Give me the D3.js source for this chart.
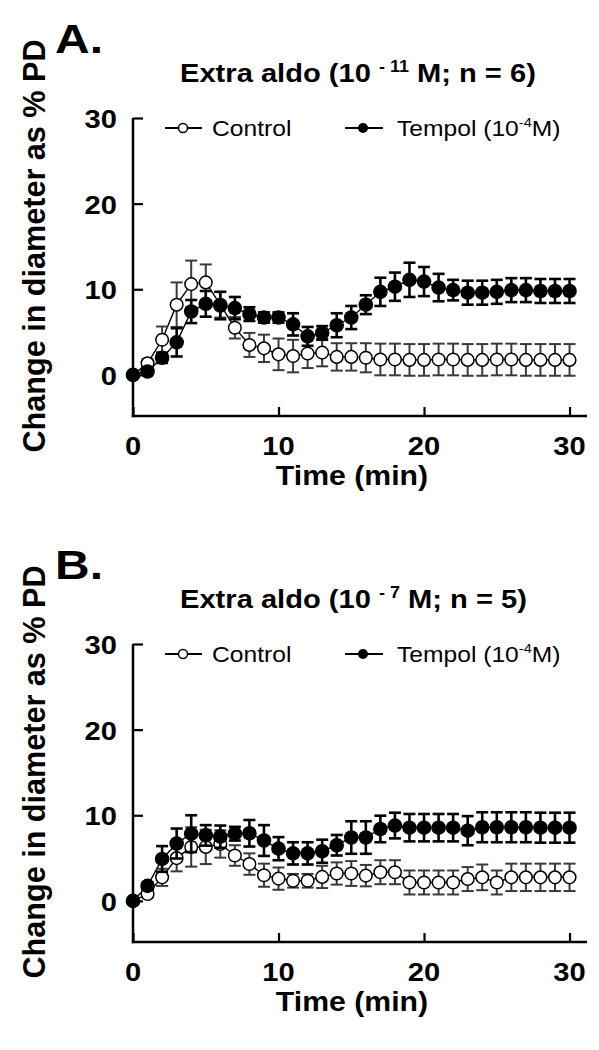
<!DOCTYPE html>
<html><head><meta charset="utf-8">
<script src="https://cdn.jsdelivr.net/npm/d3@7"></script>
<style>
body{margin:0;background:#fff}
svg{display:block}
text{font-family:"Liberation Sans",Arial,Helvetica,sans-serif;fill:#000}
</style>
</head><body>
<svg id="c" width="599" height="1050"></svg>
<script>
// ---------- data ----------
const times = [0,1,2,3,4,5,6,7,8,9,10,11,12,13,14,15,16,17,18,19,20,21,22,23,24,25,26,27,28,29,30];

// Panel A: Extra aldo (10^-11 M; n = 6)
const aControl    = [0,1.35,4.1,8.2,10.6,10.8,8.2,5.5,3.5,3.1,2.4,2.2,2.5,2.6,2.1,2.1,2.0,1.8,1.8,1.75,1.75,1.8,1.8,1.75,1.75,1.8,1.8,1.75,1.75,1.75,1.75];
const aControlErr = [0,0.5,1.55,2.6,2.75,2.1,1.5,1.25,1.4,1.6,1.85,1.9,1.7,1.6,1.6,1.6,1.7,1.85,1.85,1.85,1.85,1.85,1.85,1.85,1.85,1.85,1.85,1.85,1.85,1.85,1.85];
const aTempol     = [0,0.4,2.0,3.8,7.4,8.3,8.1,7.8,7.1,6.7,6.7,5.9,4.5,4.9,5.8,6.7,8.2,9.7,10.3,11.1,10.9,10.2,9.9,9.6,9.6,9.7,9.9,9.9,9.8,9.8,9.8];
const aTempolErr  = [0,0.3,0.6,1.65,1.35,1.5,1.6,1.3,0.8,0.6,0.6,1.3,1.1,0.8,1.4,1.35,1.1,1.65,1.65,2.0,1.7,1.6,1.2,1.4,1.4,1.4,1.4,1.4,1.4,1.4,1.4];

// Panel B: Extra aldo (10^-7 M; n = 5)
const bControl    = [0,0.8,2.75,5.0,6.3,6.3,6.65,5.3,4.3,3.0,2.6,2.35,2.35,2.8,3.2,3.2,2.95,3.35,3.35,2.15,2.15,2.15,2.15,2.55,2.75,2.15,2.75,2.75,2.75,2.75,2.75];
const bControlErr = [0,0.4,1.0,1.55,2.3,2.0,1.6,1.2,1.25,1.35,1.3,0.8,0.8,1.3,1.3,1.45,1.25,1.4,1.4,1.4,1.4,1.4,1.4,1.4,1.5,1.4,1.6,1.6,1.6,1.6,1.6];
const bTempol     = [0,1.75,4.9,6.7,7.85,7.65,7.5,7.85,7.9,7.05,6.1,5.55,5.55,5.8,6.5,7.4,7.4,8.4,8.8,8.55,8.55,8.55,8.55,8.2,8.6,8.6,8.6,8.6,8.55,8.55,8.55];
const bTempolErr  = [0,0.4,1.5,1.75,2.15,1.2,1.3,0.8,1.55,1.8,1.35,1.3,1.3,1.35,1.2,1.9,1.9,1.55,1.5,1.6,1.6,1.6,1.6,1.7,1.75,1.75,1.75,1.75,1.75,1.75,1.75];

const xTicks = [0,10,20,30];
const yTicks = [0,10,20,30];
const panelLetters = ["A.","B."];
const titleMain = "Extra aldo (10";
const titleExps = ["- 11","- 7"];
const titleNs = ["6","5"];
const legendControl = "Control";
const legendTempol = "Tempol (10";
const legendTempolExp = "-4";
const yLabel = "Change in diameter as % PD";
const xLabel = "Time (min)";

// ---------- drawing ----------
const svg = d3.select("#c");
const SX = 1.12;

function stext(parent, x, y, size, weight, anchor){
  const g = parent.append("g").attr("transform", `translate(${x},${y}) scale(${SX},1)`);
  return g.append("text").attr("font-size", size).attr("font-weight", weight).attr("text-anchor", anchor);
}

function panel(idx, dy, ctrl, ctrlErr, temp, tempErr){
  const g = svg.append("g").attr("transform", `translate(0,${dy})`);
  const x = d3.scaleLinear().domain([0,31.2]).range([133,587]);
  const y = d3.scaleLinear().domain([-4.8,30]).range([416,118]);

  // panel letter
  const L = stext(g, 55, 53, 40, "bold", "start").text(panelLetters[idx]);
  const lw = L.node().getComputedTextLength();
  L.node().parentNode.setAttribute("transform", `translate(55,53) scale(${48/lw},1)`);

  // title
  const t = stext(g, 180, 82, 26, "bold", "start");
  t.append("tspan").text(titleMain + " ");
  t.append("tspan").attr("font-size", 16).attr("dy", -10).text(titleExps[idx]);
  t.append("tspan").attr("dy", 10).text(" M; n = " + titleNs[idx] + ")");

  // legend
  const ly = 128;
  g.append("line").attr("x1",165).attr("x2",202).attr("y1",ly).attr("y2",ly).attr("stroke","#000").attr("stroke-width",2);
  g.append("circle").attr("cx",183).attr("cy",ly).attr("r",4.5).attr("fill","#fff").attr("stroke","#000").attr("stroke-width",1.5);
  stext(g, 212, 136, 22, "normal", "start").text(legendControl);
  g.append("line").attr("x1",345).attr("x2",383).attr("y1",ly).attr("y2",ly).attr("stroke","#000").attr("stroke-width",2);
  g.append("circle").attr("cx",363).attr("cy",ly).attr("r",5).attr("fill","#000");
  const lt = stext(g, 397, 136, 22, "normal", "start");
  lt.append("tspan").text(legendTempol);
  lt.append("tspan").attr("font-size", 13).attr("dy", -9).text(legendTempolExp);
  lt.append("tspan").attr("dy", 9).text("M)");

  // axes
  const xa = g.append("g").attr("transform", `translate(0,${y(-4.8)})`)
    .call(d3.axisBottom(x).tickValues(xTicks).tickSizeInner(-9).tickSizeOuter(0).tickFormat(""));
  const ya = g.append("g").attr("transform", `translate(${x(0)},0)`)
    .call(d3.axisLeft(y).tickValues(yTicks).tickSizeInner(-10).tickSizeOuter(0).tickFormat(""));
  [xa, ya].forEach(a => {
    a.select(".domain").attr("stroke","#000").attr("stroke-width",2.5);
    a.selectAll(".tick line").attr("stroke","#000").attr("stroke-width",2.2);
  });
  ya.select(".domain").attr("d", `M0,${y(30)}V${y(-4.8)+1.2}`);
  xa.select(".domain").attr("d", `M${x(0)-1.2},0H${x(31.2)}`);

  xTicks.forEach(v => stext(g, x(v), 455, 26, "bold", "middle").text(v));
  yTicks.forEach(v => stext(g, 117, y(v)+10, 26, "bold", "end").text(v));

  stext(g, 352, 485, 27, "bold", "middle").text(xLabel);
  g.append("g").attr("transform", `translate(45,246) scale(1.1,1) rotate(-90)`)
    .append("text").attr("font-size", 29).attr("font-weight","bold").attr("text-anchor","middle")
    .attr("textLength", 413).attr("lengthAdjust","spacingAndGlyphs").text(yLabel);

  // series
  const line = d3.line().x((d,i)=>x(times[i])).y(d=>y(d));
  g.append("path").attr("d", line(ctrl)).attr("fill","none").attr("stroke","#000").attr("stroke-width",1.4);
  g.append("path").attr("d", line(temp)).attr("fill","none").attr("stroke","#000").attr("stroke-width",1.4);

  function errbars(vals, errs, color, w){
    const eg = g.append("g").attr("stroke", color).attr("stroke-width", w);
    vals.forEach((v,i) => {
      const e = errs[i]; if (!e) return;
      const cx = x(times[i]);
      eg.append("line").attr("x1",cx).attr("x2",cx).attr("y1",y(v+e)).attr("y2",y(v-e));
      eg.append("line").attr("x1",cx-6).attr("x2",cx+6).attr("y1",y(v+e)).attr("y2",y(v+e));
      eg.append("line").attr("x1",cx-6).attr("x2",cx+6).attr("y1",y(v-e)).attr("y2",y(v-e));
    });
  }
  errbars(ctrl, ctrlErr, "#3a3a3a", 2);
  g.append("g").selectAll("circle").data(ctrl).join("circle")
    .attr("cx",(d,i)=>x(times[i])).attr("cy",d=>y(d)).attr("r",6.3)
    .attr("fill","#fff").attr("stroke","#000").attr("stroke-width",1.5);
  errbars(temp, tempErr, "#000", 2.6);
  g.append("g").selectAll("circle").data(temp).join("circle")
    .attr("cx",(d,i)=>x(times[i])).attr("cy",d=>y(d)).attr("r",7.3).attr("fill","#000");
}

panel(0, 0, aControl, aControlErr, aTempol, aTempolErr);
panel(1, 526, bControl, bControlErr, bTempol, bTempolErr);
</script>
</body></html>
